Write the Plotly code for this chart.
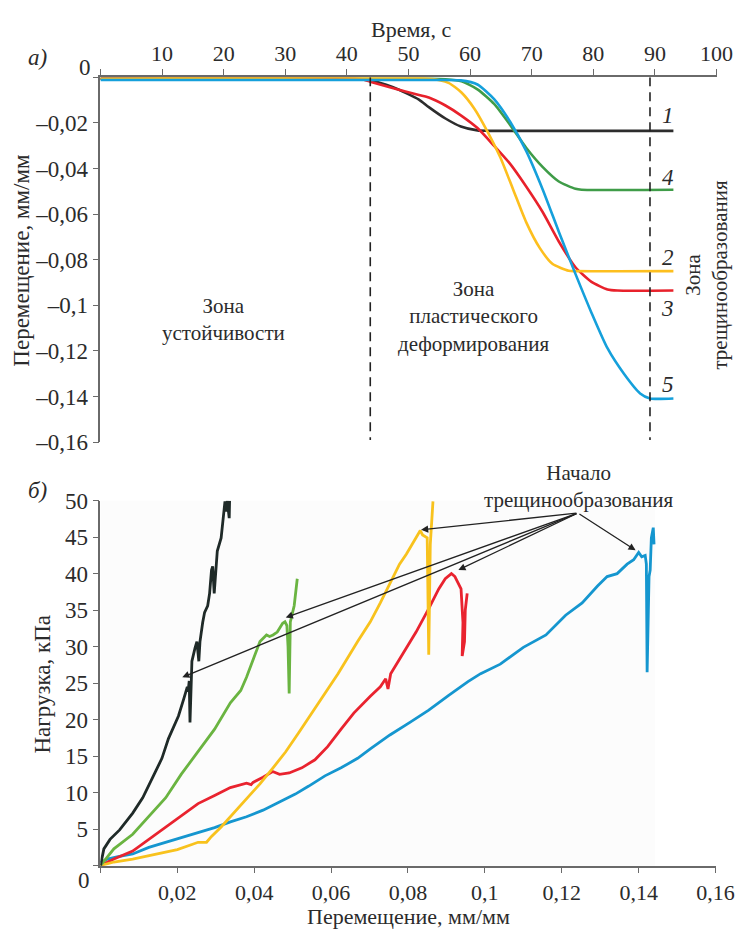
import plotly.graph_objects as go

# ---------------- DATA: panel a) displacement vs time ----------------
t_ticks = [0, 10, 20, 30, 40, 50, 60, 70, 80, 90, 100]
t_ticktext = ["", "10", "20", "30", "40", "50", "60", "70", "80", "90", "100"]
d_ticks = [0, -0.02, -0.04, -0.06, -0.08, -0.10, -0.12, -0.14, -0.16]
d_ticktext = ["", "–0,02", "–0,04", "–0,06", "–0,08", "–0,1", "–0,12", "–0,14", "–0,16"]

t1 = [0, 40, 42, 43.8, 47.4, 51.7, 53.3, 56, 58.5, 61.2, 63, 93]
d1 = [-0.0007, -0.0007, -0.0009, -0.0013, -0.0043, -0.0098, -0.0131, -0.0181, -0.0216, -0.0233, -0.0235, -0.0235]

t2 = [0, 53.5, 56.5, 58.6, 60.7, 62.8, 64.9, 67, 69.1, 71.3, 73.4, 76, 77, 93]
d2 = [-0.0007, -0.0007, -0.0025, -0.0067, -0.0138, -0.0237, -0.0351, -0.0493, -0.0635, -0.0748, -0.0819, -0.0848, -0.0850, -0.0850]

t3 = [0, 41, 42.5, 43.8, 47.4, 51.7, 53.3, 56, 58.5, 61.2, 63.9, 66.5, 69.1, 71.8, 74.4, 77.1, 79.7, 82.3, 83.9, 93]
d3 = [-0.0007, -0.0007, -0.0009, -0.002, -0.0047, -0.0078, -0.0089, -0.0124, -0.0167, -0.0223, -0.0301, -0.038, -0.0479, -0.0592, -0.072, -0.0833, -0.0897, -0.093, -0.0935, -0.0935]

t4 = [0, 54, 56, 58.6, 61.2, 63.9, 66.5, 69.1, 71.8, 74.4, 77.1, 78.1, 93]
d4 = [-0.0007, -0.0007, -0.0009, -0.0018, -0.0053, -0.0117, -0.0209, -0.0309, -0.0394, -0.0457, -0.0489, -0.0493, -0.0493]

t5 = [0, 55, 58.5, 61.2, 63.9, 66.5, 69.1, 71.8, 74.4, 77.1, 79.7, 82.3, 85, 87.6, 89.2, 93]
d5 = [-0.0012, -0.0012, -0.0014, -0.0032, -0.0096, -0.0195, -0.0323, -0.0493, -0.0677, -0.0862, -0.1032, -0.1188, -0.1301, -0.1386, -0.1408, -0.1408]

zone_bounds = [43.8, 89.2]
curve_label_t = 92.1
curve_labels = ["1", "2", "3", "4", "5"]
curve_label_d = [-0.0170, -0.0792, -0.1013, -0.0439, -0.1346]

# ---------------- DATA: panel б) load vs displacement ----------------
e_ticks = [0, 0.02, 0.04, 0.06, 0.08, 0.10, 0.12, 0.14, 0.16]
e_ticktext = ["", "0,02", "0,04", "0,06", "0,08", "0,1", "0,12", "0,14", "0,16"]
p_ticks = [0, 5, 10, 15, 20, 25, 30, 35, 40, 45, 50]
p_ticktext = ["", "5", "10", "15", "20", "25", "30", "35", "40", "45", "50"]

e_black = [0, 0.0005, 0.0009, 0.0025, 0.005, 0.0084, 0.011, 0.0135, 0.016, 0.0177, 0.0203, 0.0216, 0.0223,
           0.0226, 0.0228, 0.0231, 0.0233, 0.0235, 0.0238, 0.0246, 0.0251, 0.0256, 0.0259, 0.0266, 0.0271,
           0.0279, 0.0284, 0.0289, 0.0292, 0.0296, 0.0299, 0.0304, 0.0314, 0.0317, 0.0324, 0.0327, 0.0330,
           0.0335, 0.0336]
p_black = [0, 1.5, 2.3, 3.6, 4.9, 7.2, 9.3, 12.0, 14.7, 17.4, 20.5, 22.7, 24.0,
           24.5, 23.8, 25.3, 19.6, 25.0, 28.0, 29.8, 30.7, 28.0, 30.7, 33.3, 34.7,
           35.6, 37.3, 40.5, 41.0, 37.3, 39.6, 43.1, 44.9, 46.7, 49.9, 48.5, 50.0,
           47.6, 50.0]

e_green = [0, 0.0035, 0.0084, 0.0126, 0.017, 0.021, 0.0254, 0.0297, 0.0338, 0.0365, 0.038, 0.039, 0.0415,
           0.0432, 0.044, 0.0449, 0.046, 0.0474, 0.048, 0.0485, 0.0488, 0.0491, 0.0494, 0.0504, 0.0512]
p_green = [0, 2.3, 4.3, 6.7, 9.3, 12.5, 15.6, 18.7, 22.3, 24.0, 25.8, 27.2, 30.7,
           31.6, 31.4, 31.6, 32.0, 33.2, 33.4, 32.9, 30.0, 23.6, 33.4, 35.6, 39.3]

e_yellow = [0, 0.0035, 0.0084, 0.0126, 0.017, 0.02, 0.0238, 0.0254, 0.0276, 0.0289, 0.0314, 0.0347, 0.038,
            0.0415, 0.0449, 0.0482, 0.0517, 0.055, 0.0584, 0.0618, 0.0669, 0.0702, 0.0728, 0.0753, 0.0778,
            0.0796, 0.0811, 0.0824, 0.0832, 0.0838, 0.085, 0.0854, 0.0858, 0.0865]
p_yellow = [0, 0.5, 0.9, 1.4, 1.9, 2.2, 2.9, 3.2, 3.2, 4.0, 5.3, 7.2, 9.2,
            11.2, 13.4, 15.6, 18.3, 20.9, 23.6, 26.3, 30.7, 33.4, 36.0, 38.7, 41.3,
            42.7, 44.0, 45.3, 45.9, 45.3, 44.9, 28.9, 44.0, 49.9]

e_red = [0, 0.0035, 0.0084, 0.0126, 0.017, 0.0213, 0.0254, 0.0297, 0.0338, 0.038, 0.0392, 0.0397, 0.0423,
         0.0448, 0.0466, 0.0491, 0.0524, 0.0558, 0.0591, 0.0626, 0.0659, 0.0702, 0.0728, 0.0742, 0.0748,
         0.0755, 0.0786, 0.0821, 0.0854, 0.088, 0.0897, 0.0913, 0.0922, 0.093, 0.0938, 0.0943, 0.0941,
         0.0947, 0.0949, 0.0954]
p_red = [0, 0.9, 2.0, 3.6, 5.3, 6.9, 8.5, 9.6, 10.7, 11.3, 11.1, 11.4, 12.1,
         12.9, 12.5, 12.7, 13.4, 14.5, 16.3, 18.7, 20.9, 23.2, 24.5, 25.6, 24.2,
         26.3, 28.9, 32.0, 35.2, 37.9, 39.3, 40.0, 39.6, 38.7, 37.9, 33.3, 28.7,
         30.7, 35.0, 37.3]

e_blue = [0, 0.0018, 0.0043, 0.0084, 0.0126, 0.017, 0.0213, 0.0254, 0.0297, 0.0338, 0.038, 0.0423, 0.0466,
          0.0507, 0.0542, 0.0584, 0.0626, 0.0669, 0.0702, 0.0753, 0.0804, 0.0854, 0.0905, 0.0956, 0.0989,
          0.104, 0.110, 0.1159, 0.121, 0.1253, 0.1293, 0.1318, 0.1344, 0.137, 0.1387, 0.14, 0.1408, 0.1417,
          0.142, 0.1422, 0.1427, 0.143, 0.1433, 0.1438, 0.144]
p_blue = [0.4, 0.9, 1.2, 1.6, 2.5, 3.2, 3.8, 4.5, 5.2, 6.0, 6.7, 7.6, 8.7,
          9.8, 10.9, 12.3, 13.4, 14.7, 16.0, 17.9, 19.6, 21.3, 23.3, 25.2, 26.3,
          27.6, 29.9, 31.6, 34.3, 36.0, 38.3, 39.6, 40.0, 41.3, 41.9, 42.9, 42.3, 42.5,
          41.3, 26.5, 39.6, 40.5, 44.9, 46.3, 44.0]

# crack-onset arrows (tips on curves) and common origin near the label
arrow_tip_e = [0.0213, 0.0482, 0.0834, 0.0931, 0.1392]
arrow_tip_p = [25.8, 34.0, 46.0, 40.5, 43.2]
arrow_origin = (0.1242, 48.3)

# ---------------- STYLE ----------------
W, H = 756, 939
FONT = "Liberation Serif, 'Times New Roman', DejaVu Serif, serif"
TXT = "#2b2b2b"
AX = "#6a6a6a"


def px(x):
    return x / W


def py(y):
    return 1 - y / H


fig = go.Figure()

top_series = [
    (t1, d1, "#2d2d2d"),
    (t4, d4, "#3f9c48"),
    (t3, d3, "#e8212b"),
    (t2, d2, "#fdbf1e"),
    (t5, d5, "#15a0db"),
]
for tx, dy, col in top_series:
    fig.add_trace(go.Scatter(x=tx, y=dy, mode="lines", line=dict(color=col, width=2.6, shape="spline", smoothing=0.6),
                             xaxis="x", yaxis="y", showlegend=False, hoverinfo="skip"))

for b in zone_bounds:
    fig.add_trace(go.Scatter(x=[b, b], y=[0, -0.159], mode="lines",
                             line=dict(color="#222222", width=1.6, dash="9px,6px"),
                             xaxis="x", yaxis="y", showlegend=False, hoverinfo="skip"))

bottom_series = [
    (e_blue, p_blue, "#1596cf"),
    (e_red, p_red, "#e9232f"),
    (e_yellow, p_yellow, "#f8c21d"),
    (e_green, p_green, "#6ab441"),
    (e_black, p_black, "#1f2a28"),
]
for ex, pv, col in bottom_series:
    fig.add_trace(go.Scatter(x=ex, y=pv, mode="lines", line=dict(color=col, width=2.8),
                             xaxis="x2", yaxis="y2", showlegend=False, hoverinfo="skip"))

axis_common = dict(showgrid=False, zeroline=False, showline=True, linecolor=AX, linewidth=1.5,
                   ticks="outside", ticklen=6, tickwidth=1.4, tickcolor=AX)
tick_font = dict(family=FONT, size=23, color=TXT)
tick_font_x = dict(family=FONT, size=22, color=TXT)

fig.update_layout(
    width=W, height=H,
    autosize=False,
    margin=dict(l=0, r=0, t=0, b=0, pad=0),
    paper_bgcolor="white", plot_bgcolor="white",
    font=dict(family=FONT, size=23, color=TXT),
    xaxis=dict(domain=[px(103), px(735)], range=[0, 100], side="top", anchor="y", tickfont=tick_font_x,
               tickmode="array", tickvals=t_ticks, ticktext=t_ticktext, **axis_common),
    yaxis=dict(domain=[py(442), py(67)], range=[-0.16, 0], anchor="x", tickfont=tick_font,
               tickmode="array", tickvals=d_ticks, ticktext=d_ticktext, **axis_common),
    xaxis2=dict(domain=[px(103), px(734)], range=[0, 0.16], anchor="y2", tickfont=tick_font_x,
                tickmode="array", tickvals=e_ticks, ticktext=e_ticktext, **axis_common),
    yaxis2=dict(domain=[py(877), py(502)], range=[0, 50], anchor="x2", tickfont=tick_font,
                tickmode="array", tickvals=p_ticks, ticktext=p_ticktext, **axis_common),
    shapes=[dict(type="rect", xref="x2", yref="y2", x0=0, x1=0.1443, y0=0, y1=50.3,
                 fillcolor="#fcfcfc", line=dict(width=0), layer="below")],
)

ann = []


def txt(x, y, s, size=23, angle=0, italic=False):
    if italic:
        s = "<i>" + s + "</i>"
    ann.append(dict(x=px(x), y=py(y), xref="paper", yref="paper", text=s, showarrow=False,
                    xanchor="center", yanchor="middle", textangle=angle,
                    font=dict(family=FONT, size=size, color=TXT)))


# zero labels
txt(87, 57, "0")
txt(86, 892, "0")
# axis titles
txt(422, 18, "Время, с", size=22)
txt(22, 255, "Перемещение, мм/мм", angle=-90)
txt(44, 690, "Нагрузка, кПа", angle=-90)
txt(419, 929, "Перемещение, мм/мм", size=22)
# panel letters
txt(38, 47, "а)", italic=True)
txt(38, 492, "б)", italic=True)
# zones
txt(229, 316, "Зона<br>устойчивости", size=21)
txt(486, 313, "Зона<br>пластического<br>деформирования", size=21)
txt(725, 270, "Зона<br>трещинообразования", size=21, angle=-90)
# crack onset label
txt(594, 487, "Начало<br>трещинообразования", size=21)

# curve numbers (data coords)
for lab, dv in zip(curve_labels, curve_label_d):
    ann.append(dict(x=curve_label_t, y=dv, xref="x", yref="y", text="<i>" + lab + "</i>", showarrow=False,
                    xanchor="center", yanchor="middle", font=dict(family=FONT, size=23, color=TXT)))

# arrows
for te, tp in zip(arrow_tip_e, arrow_tip_p):
    ann.append(dict(x=te, y=tp, xref="x2", yref="y2", ax=arrow_origin[0], ay=arrow_origin[1],
                    axref="x2", ayref="y2", text="", showarrow=True, arrowhead=2, arrowsize=1.1,
                    arrowwidth=1.3, arrowcolor="#222222", standoff=0))

fig.update_layout(annotations=ann)

fig.write_html(
    "out.html",
    config={"responsive": False, "displayModeBar": False},
    post_script="document.body.style.margin='0';document.body.style.padding='0';"
                "document.documentElement.style.overflow='hidden';",
)
